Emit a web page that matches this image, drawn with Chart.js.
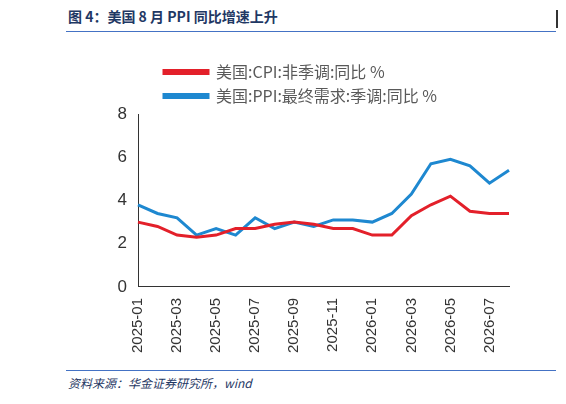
<!DOCTYPE html>
<html><head><meta charset="utf-8">
<script src="https://cdn.jsdelivr.net/npm/chart.js@4"></script>
<style>
body{margin:0;width:566px;height:404px;background:#fff;font-family:"Noto Sans CJK SC",sans-serif;position:relative;overflow:hidden}
#t{position:absolute;left:68px;top:6px;font-size:14px;color:#1f3864;font-weight:bold}
#tl{position:absolute;left:66px;top:31px;width:490px;border-top:1px solid #4472c4}
#bar{position:absolute;left:556px;top:10px;height:18px;border-left:2px solid #333}
#f{position:absolute;left:68px;top:374px;font-size:12px;font-style:italic;color:#1f3864}
#fl{position:absolute;left:66px;top:370px;width:490px;border-top:1px solid #4472c4}
#c{position:absolute;left:96px;top:56px;width:434px;height:300px}
</style></head><body>
<div id="t">图 4：美国 8 月 PPI 同比增速上升</div><div id="tl"></div><div id="bar"></div>
<div id="c"><canvas id="cv"></canvas></div>
<div id="fl"></div><div id="f">资料来源：华金证券研究所，wind</div>
<script>
const categories=["2025-01","2025-02","2025-03","2025-04","2025-05","2025-06","2025-07","2025-08","2025-09","2025-10","2025-11","2025-12","2026-01","2026-02","2026-03","2026-04","2026-05","2026-06","2026-07","2026-08"];
const cpi=[3.0,2.8,2.4,2.3,2.4,2.7,2.7,2.9,3.0,2.9,2.7,2.7,2.4,2.4,3.3,3.8,4.2,3.5,3.4,3.4];
const ppi=[3.8,3.4,3.2,2.4,2.7,2.4,3.2,2.7,3.0,2.8,3.1,3.1,3.0,3.4,4.3,5.7,5.9,5.6,4.8,5.4];
const yTicks=[0,2,4,6,8];
const shiftLegend={id:'shiftLegend',afterLayout(c){c.legend.left+=60;}};
new Chart(document.getElementById('cv'),{type:'line',
data:{labels:categories,datasets:[
{label:'美国:CPI:非季调:同比 %',data:cpi,borderColor:'#e3202a',borderWidth:3,pointRadius:0,tension:0},
{label:'美国:PPI:最终需求:季调:同比 %',data:ppi,borderColor:'#1e88d0',borderWidth:3,pointRadius:0,tension:0}]},
plugins:[shiftLegend],
options:{responsive:true,maintainAspectRatio:false,animation:false,
layout:{padding:{left:0,right:13,top:0}},
plugins:{legend:{position:'top',align:'start',labels:{boxWidth:44,boxHeight:3,font:{size:16,family:'Noto Sans CJK SC'},color:'#595959',padding:8}},tooltip:{enabled:false}},
scales:{x:{offset:false,grid:{display:false},border:{color:'#333'},ticks:{autoSkip:false,maxRotation:90,minRotation:90,font:{size:15,family:'Arial'},color:'#333',callback:(v,i)=>i%2===0?categories[i]:''}},
y:{min:0,max:8,afterFit:a=>{a.width=42},afterBuildTicks:a=>{a.ticks=yTicks.map(v=>({value:v}))},grid:{display:false},border:{color:'#333'},ticks:{font:{size:17,family:'Arial'},color:'#333'}}}}});
</script></body></html>
